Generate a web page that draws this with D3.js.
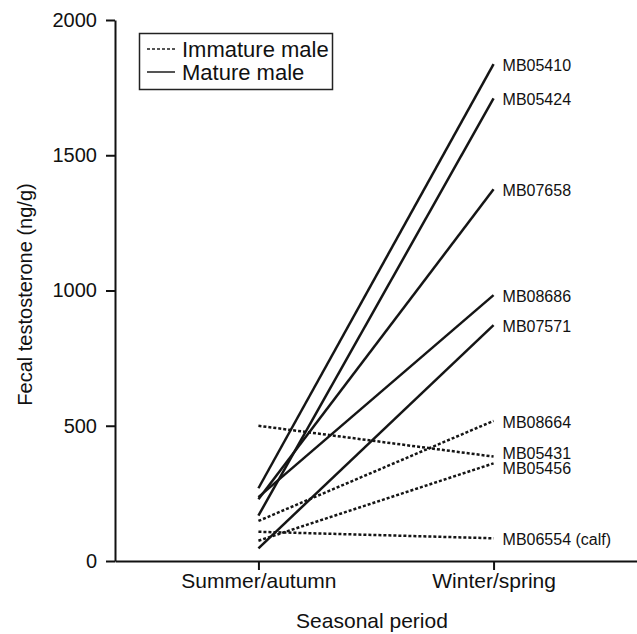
<!DOCTYPE html>
<html>
<head>
<meta charset="utf-8">
<script src="https://cdn.jsdelivr.net/npm/d3@7/dist/d3.min.js"></script>
<style>
  html, body { margin: 0; padding: 0; background: #fff; }
  svg { display: block; font-family: "Liberation Sans", Arial, Helvetica, sans-serif; }
</style>
</head>
<body>
<svg id="chart" width="637" height="634"></svg>
<script>
// Seasonal fecal testosterone (ng/g) per whale
const periods = ["Summer/autumn", "Winter/spring"];
const whaleIds = ["MB05410", "MB05424", "MB07658", "MB08686", "MB07571",
                  "MB08664", "MB05431", "MB05456", "MB06554 (calf)"];
const maturity = ["Mature", "Mature", "Mature", "Mature", "Mature",
                  "Immature", "Immature", "Immature", "Immature"];
const summerValues = [269, 168, 228, 236, 47, 148, 500, 75, 108];
const winterValues = [1837, 1710, 1374, 983, 872, 518, 386, 361, 84];
const yTicks = [0, 500, 1000, 1500, 2000];
const legendLabels = ["Immature male", "Mature male"];
const legendKinds = ["Immature", "Mature"];

const svg = d3.select("#chart");
const plotLeft = 115, plotRight = 637, plotTop = 20, plotBottom = 561;

const x = d3.scalePoint().domain(periods).range([plotLeft, plotRight]).padding(0.61);
const y = d3.scaleLinear().domain([0, 2000]).range([plotBottom, plotTop]);

const dash = k => k === "Immature" ? "3 2" : null;

// Axes
const yAxis = svg.append("g")
  .attr("transform", `translate(${plotLeft},0)`)
  .call(d3.axisLeft(y).tickValues(yTicks).tickFormat(d3.format("d"))
    .tickSize(9).tickSizeOuter(0).tickPadding(9));
const xAxis = svg.append("g")
  .attr("transform", `translate(0,${plotBottom})`)
  .call(d3.axisBottom(x).tickSize(9).tickSizeOuter(0).tickPadding(9));

[yAxis, xAxis].forEach(g => {
  g.select(".domain").attr("stroke", "#111").attr("stroke-width", 2);
  g.selectAll(".tick line").attr("stroke", "#111").attr("stroke-width", 2);
  g.selectAll(".tick text").attr("fill", "#111").style("font-size", "20px")
    .style("font-family", "'Liberation Sans', Arial, sans-serif");
});
xAxis.selectAll(".tick text").attr("dy", "0.45em").style("font-size", "21px");

// Axis titles
svg.append("text")
  .attr("x", (plotLeft + plotRight) / 2 - 4).attr("y", 628)
  .attr("text-anchor", "middle").attr("fill", "#111")
  .style("font-size", "21px")
  .text("Seasonal period");
svg.append("text")
  .attr("transform", `translate(32,${(plotTop + plotBottom) / 2 + 4}) rotate(-90)`)
  .attr("text-anchor", "middle").attr("fill", "#111")
  .style("font-size", "20px")
  .text("Fecal testosterone (ng/g)");

// One line per whale
const rows = whaleIds.map((id, i) => ({
  id, kind: maturity[i], a: summerValues[i], b: winterValues[i]
}));

svg.append("g").selectAll("line").data(rows).join("line")
  .attr("x1", x(periods[0])).attr("x2", x(periods[1]))
  .attr("y1", d => y(d.a)).attr("y2", d => y(d.b))
  .attr("stroke", "#151515").attr("stroke-width", 2.5)
  .attr("stroke-dasharray", d => dash(d.kind));

// End labels, nudged apart where they would overlap
const labelGap = 15.5;
const placed = rows.map(d => ({ id: d.id, yy: y(d.b) })).sort((p, q) => p.yy - q.yy);
for (let iter = 0; iter < 50; iter++) {
  for (let i = 1; i < placed.length; i++) {
    const over = labelGap - (placed[i].yy - placed[i - 1].yy);
    if (over > 0) { placed[i - 1].yy -= over / 2; placed[i].yy += over / 2; }
  }
}
svg.append("g").selectAll("text").data(placed).join("text")
  .attr("x", x(periods[1]) + 9).attr("y", d => d.yy + 1)
  .attr("dy", "0.36em").attr("fill", "#111")
  .style("font-size", "16px")
  .text(d => d.id);

// Legend
const lg = svg.append("g");
lg.append("rect").attr("x", 139.5).attr("y", 33.5).attr("width", 193).attr("height", 56)
  .attr("fill", "#fff").attr("stroke", "#222").attr("stroke-width", 1.5);
legendKinds.forEach((k, i) => {
  const cy = 49 + i * 23;
  lg.append("line").attr("x1", 147).attr("x2", 175).attr("y1", cy).attr("y2", cy)
    .attr("stroke", "#555").attr("stroke-width", 2).attr("stroke-dasharray", dash(k));
  lg.append("text").attr("x", 182).attr("y", cy).attr("dy", "0.36em")
    .attr("fill", "#111").style("font-size", "22px").text(legendLabels[i]);
});
</script>
</body>
</html>
